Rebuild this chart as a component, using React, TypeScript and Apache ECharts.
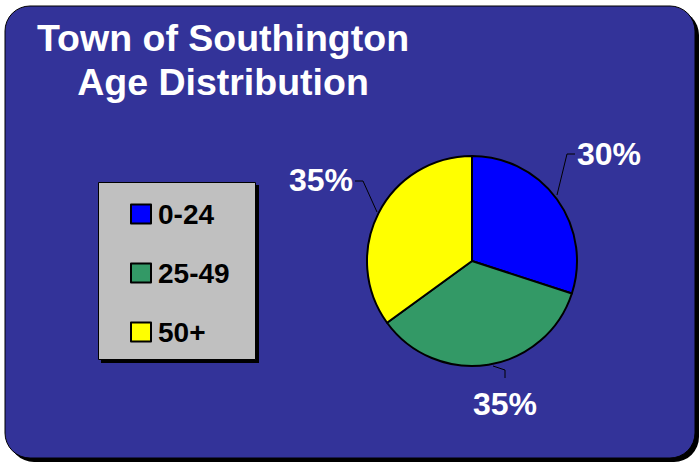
import React, { useEffect, useRef } from "react";
import * as echarts from "echarts";

const categories = ["0-24", "25-49", "50+"];
const shares = [30, 35, 35];
const sliceColors = ["#0000FF", "#339966", "#FFFF00"];
const titleLines = ["Town of Southington", "Age Distribution"];

const FONT = '"Liberation Sans", Arial, sans-serif';

// label placement (layout only)
const labelPlacement = [
  { x: 577, y: 154, align: "left", line: [[557, 195], [567, 154], [575, 154]] },
  { x: 505, y: 404, align: "center", line: [[493, 366], [505, 370], [505, 378]] },
  { x: 353, y: 180, align: "right", line: [[377, 212], [363, 181], [355, 181]] },
];

export default function App() {
  const ref = useRef<HTMLDivElement>(null);
  useEffect(() => {
    if (!ref.current) return;
    const chart = echarts.init(ref.current, null, { renderer: "svg" });
    const option: any = {
      animation: false,
      backgroundColor: "#ffffff",
      graphic: [
        {
          type: "rect",
          z: -10,
          shape: { x: 9, y: 10, width: 690, height: 452, r: 25 },
          style: { fill: "#000000" },
          silent: true,
        },
        {
          type: "rect",
          z: -9,
          shape: { x: 5, y: 6, width: 690, height: 452, r: 25 },
          style: { fill: "#333399", stroke: "#000000", lineWidth: 1 },
          silent: true,
        },
        {
          type: "rect",
          z: -8,
          shape: { x: 101, y: 185, width: 158, height: 178 },
          style: { fill: "#000000" },
          silent: true,
        },
        {
          type: "rect",
          z: -7,
          shape: { x: 98.5, y: 182.5, width: 157, height: 177 },
          style: { fill: "#C0C0C0", stroke: "#000000", lineWidth: 1 },
          silent: true,
        },
        {
          type: "text",
          z: 5,
          style: {
            text: titleLines.join("\n"),
            x: 223,
            y: 16,
            textAlign: "center",
            textVerticalAlign: "top",
            fill: "#ffffff",
            font: `bold 37.5px ${FONT}`,
            lineHeight: 44,
          },
        },
      ],
      legend: {
        orient: "vertical",
        left: 130,
        top: 199,
        padding: 0,
        itemWidth: 20,
        itemHeight: 19,
        itemGap: 29,
        icon: "rect",
        data: categories,
        itemStyle: { borderColor: "#000000", borderWidth: 2 },
        textStyle: {
          color: "#000000",
          fontWeight: "bold",
          fontSize: 28,
          fontFamily: FONT,
          lineHeight: 30,
          padding: [0, 0, 0, 2],
        },
      },
      series: [
        {
          type: "pie",
          center: [472, 261],
          radius: 105,
          startAngle: 90,
          clockwise: true,
          avoidLabelOverlap: false,
          data: categories.map((c, i) => ({
            name: c,
            value: shares[i],
            itemStyle: { color: sliceColors[i] },
          })),
          itemStyle: { borderColor: "#000000", borderWidth: 2 },
          label: {
            show: true,
            position: "outside",
            formatter: "{d}%",
            color: "#ffffff",
            fontWeight: "bold",
            fontSize: 32,
            fontFamily: FONT,
          },
          labelLine: {
            show: true,
            length: 20,
            length2: 10,
            lineStyle: { color: "#000000", width: 1 },
          },
          labelLayout: (params: any) => {
            const p = labelPlacement[params.dataIndex];
            return {
              x: p.x,
              y: p.y,
              align: p.align,
              verticalAlign: "middle",
              labelLinePoints: p.line,
            };
          },
          emphasis: { disabled: true },
        },
      ],
    };
    chart.setOption(option);
    return () => chart.dispose();
  }, []);
  return (
    <div
      ref={ref}
      style={{ position: "absolute", left: 0, top: 0, width: 700, height: 463 }}
    />
  );
}
